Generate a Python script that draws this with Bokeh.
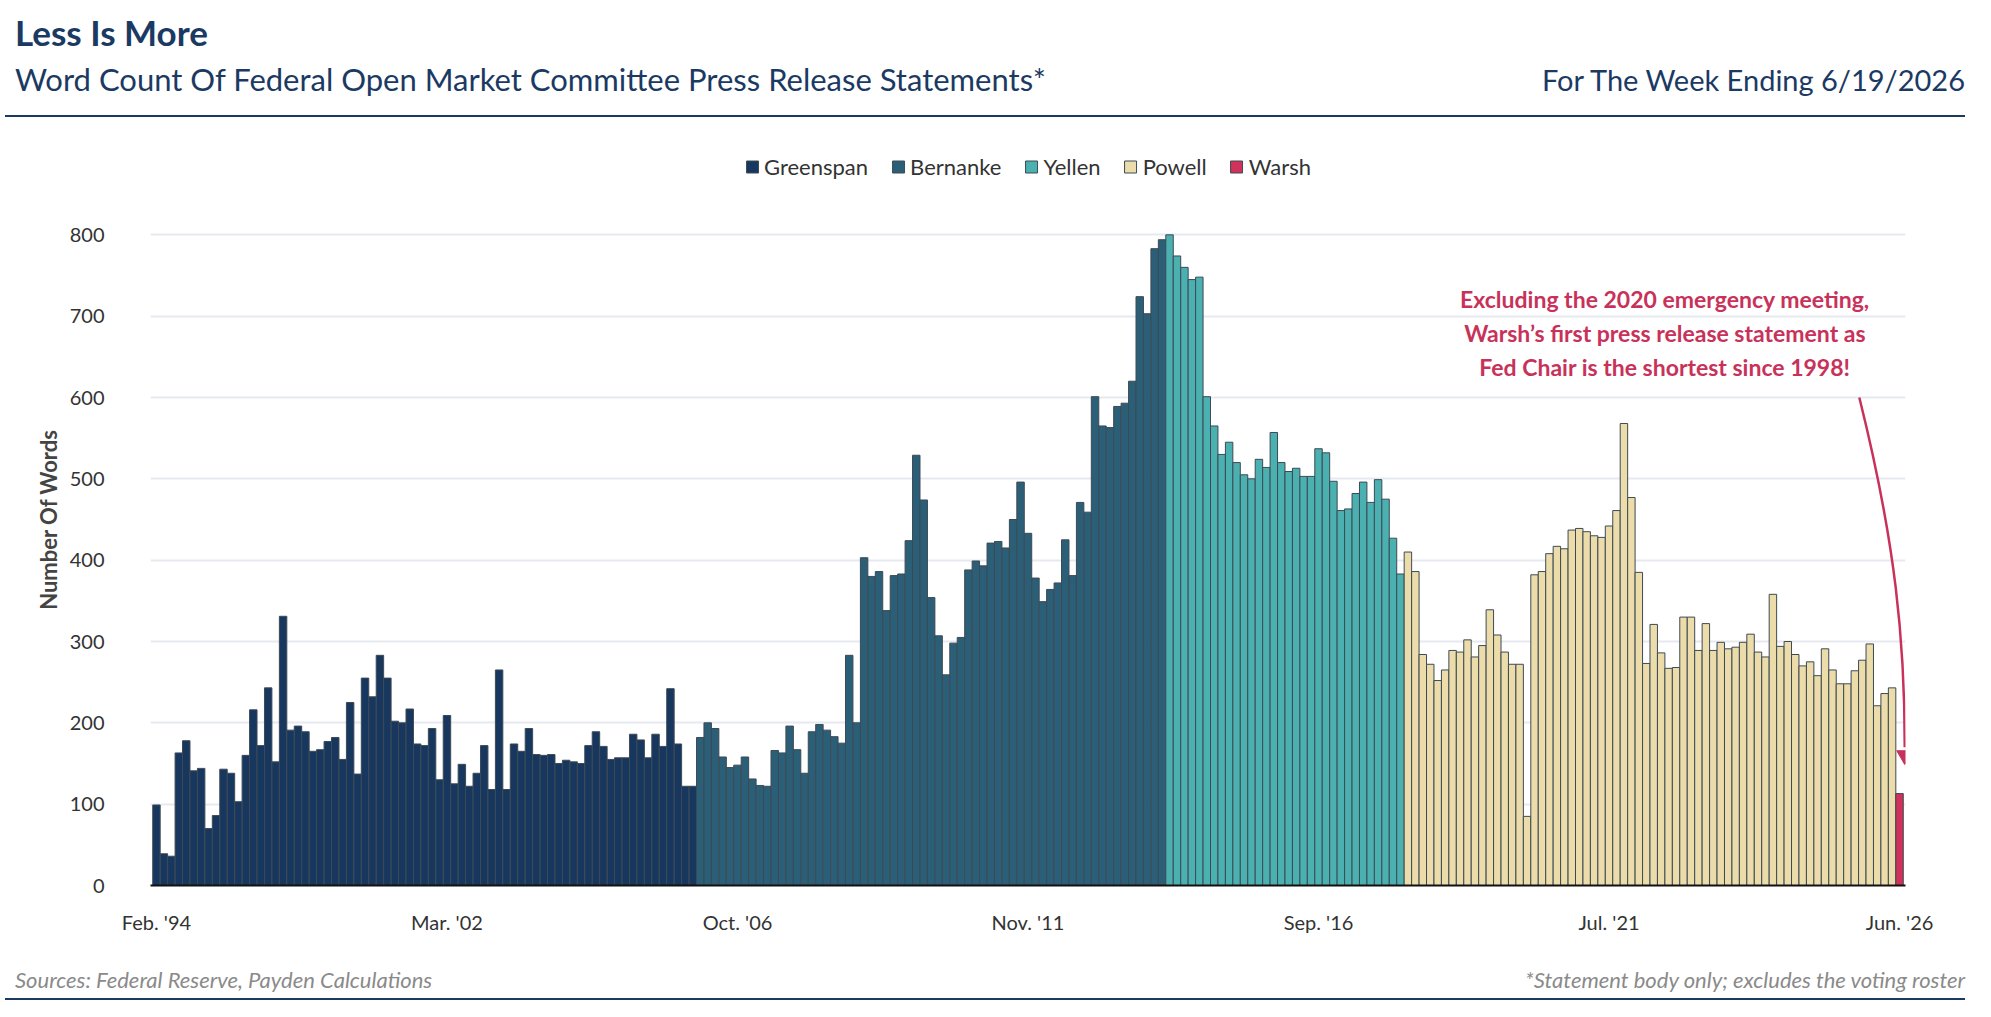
from bokeh.plotting import figure
from bokeh.models import Range1d, FixedTicker, Div, Legend, LegendItem, ColumnDataSource
from bokeh.layouts import column
from bokeh.core.properties import value
from bokeh.embed import file_html
from bokeh.resources import INLINE

greenspan = [99,39,36,163,178,141,144,70,86,143,138,103,160,216,172,243,152,331,191,196,189,165,167,177,182,155,225,137,255,232,283,255,202,200,217,174,172,193,130,209,125,149,122,138,172,118,265,118,174,165,193,161,160,161,150,154,152,150,172,189,171,155,157,157,186,179,157,186,171,242,174,122,122]
bernanke = [182,200,193,158,145,148,158,131,123,122,166,163,196,167,138,189,198,191,183,175,283,200,403,380,386,338,381,383,424,529,474,354,307,259,298,305,388,399,393,421,423,415,450,496,433,378,349,364,372,425,381,471,459,601,565,563,589,593,620,724,703,783,794]
yellen = [800,774,760,745,748,601,565,530,545,520,505,500,524,514,557,520,509,513,503,503,537,532,497,461,463,482,496,471,499,475,427,383]
powell = [410,386,284,272,252,265,289,287,302,281,295,339,308,287,272,272,85,382,386,408,417,414,437,439,435,430,428,442,461,568,477,385,273,321,286,267,268,330,330,289,322,289,299,291,293,299,309,287,281,358,294,300,284,270,275,258,291,265,248,248,264,277,297,221,236,243]
warsh = [113]
chairs = ["Greenspan", "Bernanke", "Yellen", "Powell", "Warsh"]
series = [greenspan, bernanke, yellen, powell, warsh]
colors = ["#17375e", "#2b5f78", "#4bb0b0", "#ecdcaa", "#d0325a"]
tick_labels = ["Feb. '94", "Mar. '02", "Oct. '06", "Nov. '11", "Sep. '16", "Jul. '21", "Jun. '26"]
note_lines = ["Excluding the 2020 emergency meeting,", "Warsh\u2019s first press release statement as", "Fed Chair is the shortest since 1998!"]

n_total = sum(len(s) for s in series)
FONT = "Lato"
NAVY = "#1b3a63"

header = Div(text=f"""
<div style="width:1960px;font-family:{FONT};color:{NAVY};position:relative;height:112px;border-bottom:2px solid {NAVY};">
 <div style="font-size:35px;font-weight:bold;position:absolute;left:10px;top:2px;">Less Is More</div>
 <div style="font-size:31px;position:absolute;left:10px;top:52px;">Word Count Of Federal Open Market Committee Press Release Statements*</div>
 <div style="font-size:29px;position:absolute;right:0px;top:54px;">For The Week Ending 6/19/2026</div>
</div>""", width=1965, height=118)

p = figure(width=1965, height=827, output_backend="svg", toolbar_location=None,
           x_range=Range1d(-0.8, n_total - 0.2), y_range=Range1d(0, 900),
           min_border_left=150, min_border_right=60, min_border_top=25, min_border_bottom=70)
p.outline_line_color = None

items = []
start = 0
for name, vals, col in zip(chairs, series, colors):
    xs = list(range(start, start + len(vals)))
    src = ColumnDataSource(dict(x=xs, top=vals))
    r = p.vbar(x="x", top="top", width=1.0, bottom=0, source=src, fill_color=col,
               line_color="#3d4a55", line_width=1)
    items.append(LegendItem(label=name, renderers=[r]))
    start += len(vals)

legend = Legend(items=items, orientation="horizontal", location="top_center",
                label_text_font=FONT, label_text_font_size="22px", label_text_color="#333",
                glyph_width=15, glyph_height=15, spacing=22, border_line_color=None,
                background_fill_alpha=0, margin=0, padding=2)
p.add_layout(legend)

step = (n_total - 1) / 6
ticks = [round(i * step) for i in range(7)]
p.xaxis.ticker = FixedTicker(ticks=ticks)
p.xaxis.major_label_overrides = {t: l for t, l in zip(ticks, tick_labels)}
p.yaxis.ticker = FixedTicker(ticks=[0, 100, 200, 300, 400, 500, 600, 700, 800])
for ax in (p.xaxis, p.yaxis):
    ax.major_label_text_font = FONT
    ax.major_label_text_font_size = "20px"
    ax.major_label_text_color = "#333"
    ax.major_tick_line_color = None
    ax.minor_tick_line_color = None
p.xaxis.axis_line_color = "#111"
p.xaxis.axis_line_width = 2
p.xaxis.major_label_standoff = 18
p.yaxis.axis_line_color = None
p.yaxis.major_label_standoff = 40
p.yaxis.axis_label = "Number Of Words"
p.yaxis.axis_label_text_font = FONT
p.yaxis.axis_label_text_font_style = "bold"
p.yaxis.axis_label_text_font_size = "22px"
p.yaxis.axis_label_text_color = "#444"
p.xgrid.grid_line_color = None
p.ygrid.grid_line_color = "#e6eaf0"
p.ygrid.grid_line_width = 2

p.text(x=[202.5] * 3, y=[721, 679, 637], text=note_lines, text_align="center", text_baseline="middle",
       text_font=value(FONT), text_font_style="bold", text_font_size="23px", text_color="#c8325a")
p.bezier(x0=[228.6], y0=[600], x1=[n_total - 0.3], y1=[170], cx0=[233.5], cy0=[420], cx1=[n_total - 0.3], cy1=[300],
         line_color="#c8325a", line_width=2.5)
p.scatter(x=[n_total - 0.3], y=[160], marker="inverted_triangle", size=16, fill_color="#c8325a", line_color="#c8325a")

footer = Div(text=f"""
<div style="width:1960px;font-family:{FONT};color:#8a8a8a;font-style:italic;font-size:22px;position:relative;height:40px;border-bottom:2px solid {NAVY};">
 <div style="position:absolute;left:10px;top:4px;">Sources: Federal Reserve, Payden Calculations</div>
 <div style="position:absolute;right:0px;top:4px;">*Statement body only; excludes the voting roster</div>
</div>""", width=1965, height=48)

layout = column(header, p, footer, spacing=0)
open("out.html", "w").write(file_html(layout, INLINE))
